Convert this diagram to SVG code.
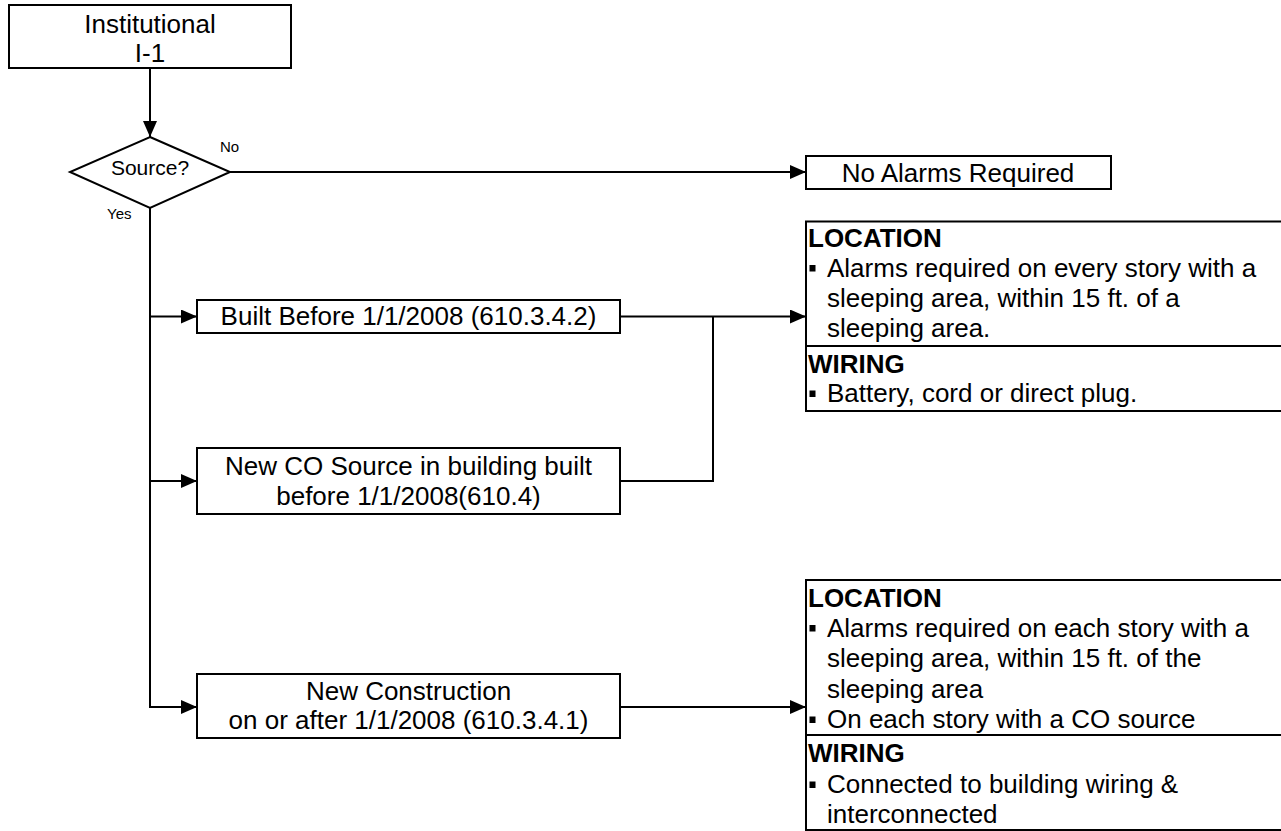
<svg xmlns="http://www.w3.org/2000/svg" width="1281" height="831" viewBox="0 0 1281 831">
<style>
  .box{fill:#fff;stroke:#000;stroke-width:2}
  .ln{fill:none;stroke:#000;stroke-width:2}
  .t{font-family:"Liberation Sans",Arial,sans-serif;font-size:26px;fill:#000}
  .c{text-anchor:middle}
  .b{font-weight:bold}
  .s{font-size:15px}
  .bul{fill:#000}
</style>
<defs>
  <marker id="arr" markerUnits="userSpaceOnUse" markerWidth="16" markerHeight="14" refX="16" refY="7" orient="auto">
    <path d="M0,0 L16,7 L0,14 Z" fill="#000"/>
  </marker>
</defs>
<rect width="1281" height="831" fill="#fff"/>

<g id="connectors">
  <path class="ln" d="M150,68 V137" marker-end="url(#arr)"/>
  <path class="ln" d="M230,172 H806" marker-end="url(#arr)"/>
  <path class="ln" d="M150,208 V707 H197" marker-end="url(#arr)"/>
  <path class="ln" d="M150,316.5 H197" marker-end="url(#arr)"/>
  <path class="ln" d="M150,481 H197" marker-end="url(#arr)"/>
  <path class="ln" d="M620,316.5 H806" marker-end="url(#arr)"/>
  <path class="ln" d="M620,481 H713 V316.5"/>
  <path class="ln" d="M620,707 H806" marker-end="url(#arr)"/>
  <text class="t s" x="220" y="152">No</text>
  <text class="t s" x="107" y="219">Yes</text>
</g>

<g id="start">
  <rect class="box" x="9" y="5" width="282" height="63"/>
  <text class="t c" x="150" y="33">Institutional</text>
  <text class="t c" x="150" y="62">I-1</text>
</g>

<g id="decision">
  <polygon class="box" points="150,137 230,172 150,208 70,172"/>
  <text class="t c" x="150" y="175" style="font-size:21px">Source?</text>
</g>

<g id="no-alarms">
  <rect class="box" x="806" y="156" width="305" height="33"/>
  <text class="t c" x="958" y="181.5">No Alarms Required</text>
</g>

<g id="built-before">
  <rect class="box" x="197" y="300" width="423" height="33"/>
  <text class="t c" x="408.5" y="325">Built Before 1/1/2008 (610.3.4.2)</text>
</g>

<g id="new-co-source">
  <rect class="box" x="197" y="448" width="423" height="66"/>
  <text class="t c" x="408.5" y="475">New CO Source in building built</text>
  <text class="t c" x="408.5" y="505">before 1/1/2008(610.4)</text>
</g>

<g id="new-construction">
  <rect class="box" x="197" y="674" width="423" height="64"/>
  <text class="t c" x="408.5" y="700">New Construction</text>
  <text class="t c" x="408.5" y="728.5">on or after 1/1/2008 (610.3.4.1)</text>
</g>

<g id="panel-existing">
  <rect class="box" x="806" y="221.5" width="490" height="189.5"/>
  <line class="ln" x1="806" y1="346" x2="1290" y2="346"/>
  <text class="t b" x="808" y="246.7">LOCATION</text>
  <rect class="bul" x="809.5" y="265" width="6" height="6.5"/>
  <text class="t" x="827" y="276.7">Alarms required on every story with a</text>
  <text class="t" x="827" y="306.7">sleeping area, within 15 ft. of a</text>
  <text class="t" x="827" y="337">sleeping area.</text>
  <text class="t b" x="808" y="373">WIRING</text>
  <rect class="bul" x="809.5" y="390.5" width="6" height="6.5"/>
  <text class="t" x="827" y="402">Battery, cord or direct plug.</text>
</g>

<g id="panel-new">
  <rect class="box" x="806" y="580" width="490" height="250"/>
  <line class="ln" x1="806" y1="735" x2="1290" y2="735"/>
  <text class="t b" x="808" y="606.7">LOCATION</text>
  <rect class="bul" x="809.5" y="625" width="6" height="6.5"/>
  <text class="t" x="827" y="636.7">Alarms required on each story with a</text>
  <text class="t" x="827" y="666.7">sleeping area, within 15 ft. of the</text>
  <text class="t" x="827" y="697.7">sleeping area</text>
  <rect class="bul" x="809.5" y="716.5" width="6" height="6.5"/>
  <text class="t" x="827" y="728">On each story with a CO source</text>
  <text class="t b" x="808" y="761.7">WIRING</text>
  <rect class="bul" x="809.5" y="781.5" width="6" height="6.5"/>
  <text class="t" x="827" y="793">Connected to building wiring &amp;</text>
  <text class="t" x="827" y="823">interconnected</text>
</g>
</svg>
